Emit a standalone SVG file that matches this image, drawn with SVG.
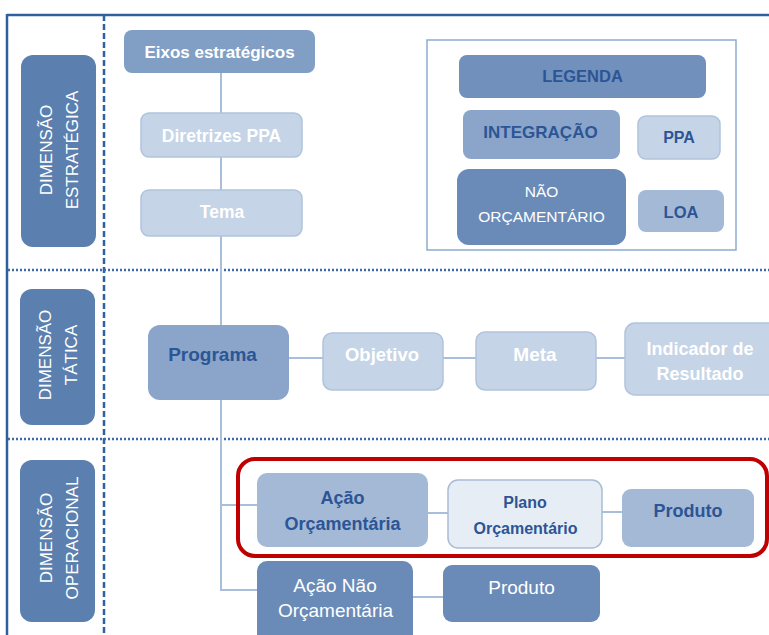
<svg xmlns="http://www.w3.org/2000/svg" width="769" height="635" viewBox="0 0 769 635">
<style>
text{font-family:"Liberation Sans",Arial,sans-serif;text-anchor:middle}
.b{font-weight:bold}
.w{fill:#ffffff}
.d{fill:#2c5595}
.side{fill:#5b7fae}
.c1{fill:#c5d4e6;stroke:#b0c3dc;stroke-width:1.5}
.c2{fill:#8aa5c9}
.c3{fill:#a3b9d6}
.c4{fill:#6a8bb8}
.c5{fill:#819fc5}
.c6{fill:#7190bc}
.conn line{stroke:#a9bedb;stroke-width:2}
</style>
<g id="frame">
<line x1="7" y1="15" x2="769" y2="15" stroke="#2f61a0" stroke-width="2.5"/>
<line x1="7" y1="14" x2="7" y2="635" stroke="#2f61a0" stroke-width="2.5"/>
<line x1="104" y1="15" x2="104" y2="635" stroke="#2f61a0" stroke-width="2.5" stroke-dasharray="6 3"/>
<line x1="8" y1="270" x2="769" y2="270" stroke="#3f6aa6" stroke-width="2.5" stroke-dasharray="2 2"/>
<line x1="8" y1="439" x2="769" y2="439" stroke="#3f6aa6" stroke-width="2.5" stroke-dasharray="2 2"/>
</g>
<g id="dim-estrategica">
<rect class="side" x="21" y="55" width="75" height="192" rx="12"/>
<text class="w" font-size="17" transform="translate(52,150) rotate(-90)">DIMENSÃO</text>
<text class="w" font-size="17" transform="translate(78,150) rotate(-90)">ESTRATÉGICA</text>
</g>
<g id="dim-tatica">
<rect class="side" x="20" y="289" width="75" height="136" rx="12"/>
<text class="w" font-size="17" transform="translate(51,355) rotate(-90)">DIMENSÃO</text>
<text class="w" font-size="17" transform="translate(77,355) rotate(-90)">TÁTICA</text>
</g>
<g id="dim-operacional">
<rect class="side" x="20" y="460" width="75" height="162" rx="12"/>
<text class="w" font-size="17" transform="translate(52,538) rotate(-90)">DIMENSÃO</text>
<text class="w" font-size="17" transform="translate(78,538) rotate(-90)">OPERACIONAL</text>
</g>
<g id="connectors" class="conn">
<line x1="221" y1="73" x2="221" y2="591"/>
<line x1="289" y1="358" x2="323" y2="358"/>
<line x1="443" y1="358" x2="476" y2="358"/>
<line x1="596" y1="358" x2="625" y2="358"/>
<line x1="220" y1="505" x2="257" y2="505"/>
<line x1="220" y1="590" x2="257" y2="590"/>
<line x1="428" y1="513" x2="448" y2="513"/>
<line x1="602" y1="512" x2="622" y2="512"/>
<line x1="413" y1="597" x2="443" y2="597"/>
</g>
<g id="eixos">
<rect class="c5" x="124" y="30" width="191" height="43" rx="8"/>
<text class="w b" font-size="17" x="219.5" y="58">Eixos estratégicos</text>
</g>
<g id="diretrizes">
<rect class="c1" x="141" y="113" width="161" height="44" rx="8"/>
<text class="w b" font-size="17.5" x="221.5" y="142">Diretrizes PPA</text>
</g>
<g id="tema">
<rect class="c1" x="141" y="190" width="161" height="46" rx="8"/>
<text class="w b" font-size="17.5" x="222" y="218">Tema</text>
</g>
<g id="legenda-box">
<rect x="427" y="40" width="309" height="210" fill="#ffffff" stroke="#8faad0" stroke-width="1.5"/>
</g>
<g id="legenda">
<rect class="c6" x="459" y="55" width="247" height="43" rx="8"/>
<text class="d b" font-size="16.5" x="582.5" y="82">LEGENDA</text>
</g>
<g id="integracao">
<rect class="c2" x="463" y="110" width="157" height="49" rx="8"/>
<text class="d b" font-size="17" x="540.5" y="138">INTEGRAÇÃO</text>
</g>
<g id="ppa">
<rect class="c1" x="638" y="116" width="82" height="43" rx="8"/>
<text class="d b" font-size="16" x="679" y="143">PPA</text>
</g>
<g id="nao-orcamentario">
<rect class="c4" x="457" y="169" width="169" height="76" rx="12"/>
<text class="w" font-size="15.5" x="541.5" y="197">NÃO</text>
<text class="w" font-size="15.5" x="541.5" y="222">ORÇAMENTÁRIO</text>
</g>
<g id="loa">
<rect class="c3" x="638" y="190" width="86" height="42" rx="8"/>
<text class="d b" font-size="16.5" x="681" y="218">LOA</text>
</g>
<g id="programa">
<rect class="c2" x="148" y="325" width="141" height="75" rx="12"/>
<text class="d b" font-size="19" x="212.5" y="361">Programa</text>
</g>
<g id="objetivo">
<rect class="c1" x="323" y="333" width="120" height="57" rx="9"/>
<text class="w b" font-size="18.5" x="382" y="361">Objetivo</text>
</g>
<g id="meta">
<rect class="c1" x="476" y="332" width="120" height="58" rx="9"/>
<text class="w b" font-size="19" x="535" y="361">Meta</text>
</g>
<g id="indicador">
<rect class="c1" x="625" y="323" width="155" height="72" rx="10"/>
<text class="w b" font-size="18" x="700" y="355">Indicador de</text>
<text class="w b" font-size="18" x="700" y="380">Resultado</text>
</g>
<g id="destaque">
<rect x="238" y="459" width="529" height="97" rx="17" fill="none" stroke="#c00000" stroke-width="4"/>
</g>
<g id="acao-orcamentaria">
<rect class="c3" x="257" y="473" width="171" height="74" rx="10"/>
<text class="d b" font-size="18" x="342.5" y="504">Ação</text>
<text class="d b" font-size="18" x="342.5" y="530">Orçamentária</text>
</g>
<g id="plano-orcamentario">
<rect x="448" y="480" width="154" height="68" rx="10" fill="#e7edf5" stroke="#a9bcd6" stroke-width="1.5"/>
<text class="d b" font-size="16" x="525" y="508">Plano</text>
<text class="d b" font-size="16" x="525.5" y="534">Orçamentário</text>
</g>
<g id="produto-1">
<rect class="c3" x="622" y="489" width="132" height="58" rx="9"/>
<text class="d b" font-size="18" x="688" y="517">Produto</text>
</g>
<g id="acao-nao-orcamentaria">
<rect class="c4" x="257" y="561" width="156" height="84" rx="10"/>
<text class="w" font-size="19" x="335" y="592">Ação Não</text>
<text class="w" font-size="19" x="335.5" y="617">Orçamentária</text>
</g>
<g id="produto-2">
<rect class="c4" x="443" y="565" width="157" height="57" rx="9"/>
<text class="w" font-size="19" x="521.5" y="594">Produto</text>
</g>
</svg>
